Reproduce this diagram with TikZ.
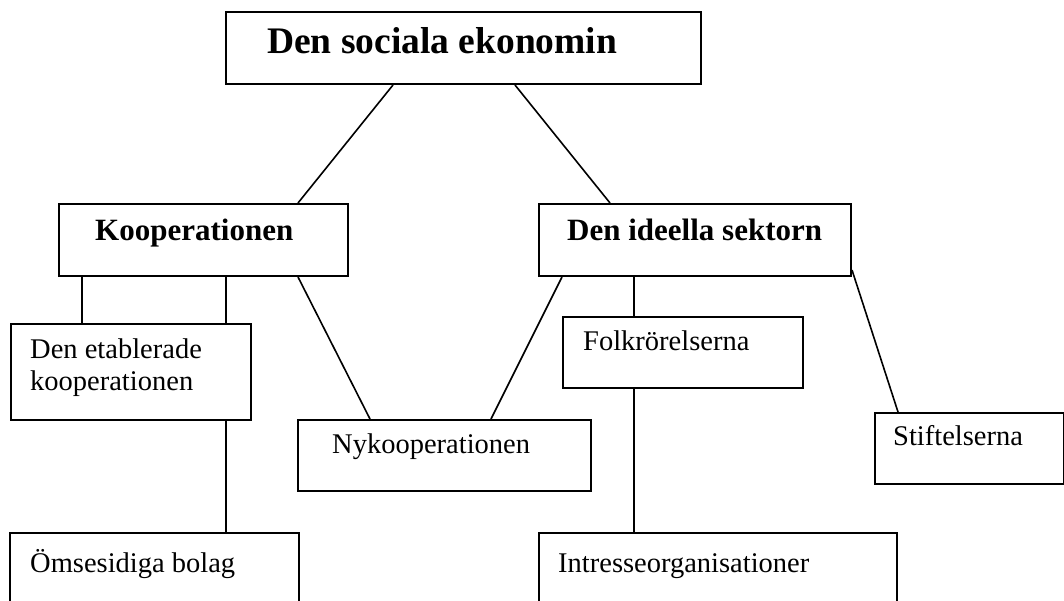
\documentclass[tikz,border=0pt]{standalone}
\usepackage{fontspec}
\setmainfont{Liberation Serif}
\usetikzlibrary{positioning}

\begin{document}
\begin{tikzpicture}[x=1pt, y=-1pt,
    box/.style={rectangle, draw=black, line width=2pt, anchor=north west, inner sep=0pt},
    txt/.style={anchor=base west, inner sep=0pt, font=\fontsize{28.5}{32}\selectfont, align=left},
    head/.style={txt, font=\fontsize{31}{36}\bfseries\selectfont},
    link/.style={line width=1.6pt}]
    \clip (0,0) rectangle (1064,600);

    % Nodes
    \node (top) [box, minimum width=475pt, minimum height=72pt] at (225,11) {};
    \node (coop) [box, minimum width=289pt, minimum height=72pt] at (58,203) {};
    \node (ideell) [box, minimum width=312pt, minimum height=72pt] at (538,203) {};
    \node (etab) [box, minimum width=240pt, minimum height=96pt] at (10,323) {};
    \node (nyko) [box, minimum width=293pt, minimum height=71pt] at (297,419) {};
    \node (folk) [box, minimum width=240pt, minimum height=71pt] at (562,316) {};
    \node (stift) [box, minimum width=189pt, minimum height=71pt] at (874,412) {};
    \node (oms) [box, minimum width=289pt, minimum height=90pt] at (9,532) {};
    \node (intr) [box, minimum width=358pt, minimum height=90pt] at (538,532) {};

    % Texts
    \node (top-t) [head, font=\fontsize{37.5}{42}\bfseries\selectfont] at ([xshift=42pt, yshift=-42pt]top.north west) {Den sociala ekonomin};
    \node (coop-t) [head] at ([xshift=37pt, yshift=-37pt]coop.north west) {Kooperationen};
    \node (ideell-t) [head] at ([xshift=29pt, yshift=-37pt]ideell.north west) {Den ideella sektorn};
    \node (etab-t) [txt] at ([xshift=20pt, yshift=-67pt]etab.north west) {Den etablerade\\kooperationen};
    \node (nyko-t) [txt] at ([xshift=35pt, yshift=-34pt]nyko.north west) {Nykooperationen};
    \node (folk-t) [txt] at ([xshift=21pt, yshift=-34pt]folk.north west) {Folkrörelserna};
    \node (stift-t) [txt] at ([xshift=19pt, yshift=-33pt]stift.north west) {Stiftelserna};
    \node (oms-t) [txt] at ([xshift=21pt, yshift=-40pt]oms.north west) {Ömsesidiga bolag};
    \node (intr-t) [txt] at ([xshift=20pt, yshift=-40pt]intr.north west) {Intresseorganisationer};

    % Lines
    \draw[link] ([xshift=168pt]top.south west) -- ([xshift=240pt]coop.north west);
    \draw[link] ([xshift=290pt]top.south west) -- ([xshift=72pt]ideell.north west);
    \draw[link] ([xshift=24pt]coop.south west) -- ([xshift=72pt]etab.north west);
    \draw[link] ([xshift=168pt]coop.south west) -- ([xshift=216pt]etab.north west);
    \draw[link] ([xshift=240pt]coop.south west) -- ([xshift=73pt]nyko.north west);
    \draw[link] ([xshift=24pt]ideell.south west) -- ([xshift=194pt]nyko.north west);
    \draw[link] ([xshift=96pt]ideell.south west) -- ([xshift=72pt]folk.north west);
    \draw[link] ([yshift=7pt]ideell.south east) -- ([xshift=24pt]stift.north west);
    \draw[link] ([xshift=216pt]etab.south west) -- ([xshift=217pt]oms.north west);
    \draw[link] ([xshift=72pt]folk.south west) -- ([xshift=96pt]intr.north west);
\end{tikzpicture}
\end{document}
